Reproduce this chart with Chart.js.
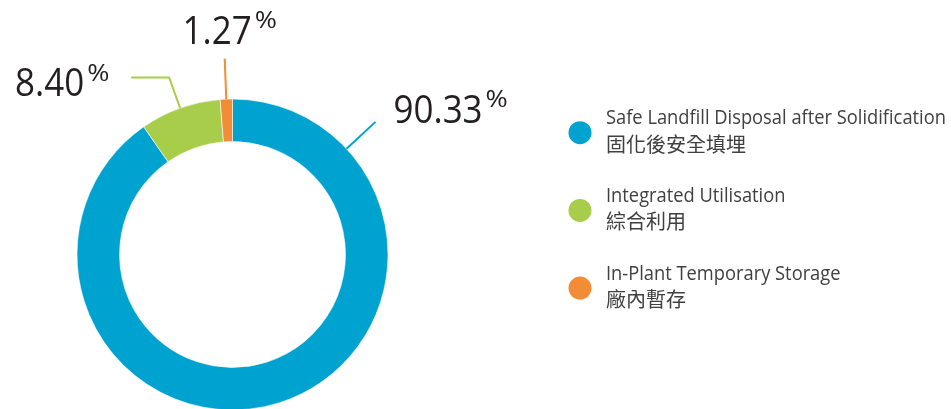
<!DOCTYPE html>
<html><head><meta charset="utf-8">
<script src="https://cdn.jsdelivr.net/npm/chart.js@4"></script>
<style>html,body{margin:0;padding:0;background:#fff;overflow:hidden;width:951px;height:409px}
#wrap{position:relative;width:951px;height:409px}</style></head>
<body><div id="wrap"><canvas id="c" width="951" height="409"></canvas></div>
<script>
// ---- data ----
const categoriesEn = ['Safe Landfill Disposal after Solidification', 'Integrated Utilisation', 'In-Plant Temporary Storage'];
const categoriesZh = ['固化後安全填埋', '綜合利用', '廠內暫存'];
const shares = [90.33, 8.40, 1.27];
const valueLabels = ['90.33', '8.40', '1.27'];
const colors = ['#00a3d0', '#a7cd4b', '#f28c36'];

// ---- label / leader styling (positions relative to the arcs) ----
// align refers to the number (without the % sign)
const leaderStyle = [
  { at: 0.145, r2: 195, hx: 0,   tx: 18,   ty: 1,   align: 'left' },
  { at: 0.5,   r2: 188, hx: -38, tx: -47,  ty: 19,  align: 'right' },
  { at: 0.5,   r2: 196, hx: 0,   tx: -7.5, ty: -15, align: 'center' }
];
const numFont = '38px "Open Sans"';
const pctFont = '24px "Open Sans"';
const condense = 0.92;
const pctStretch = 1.12;
const legendCondense = 0.915;

const labelPlugin = {
  id: 'leaders',
  afterDatasetsDraw(chart) {
    const ctx = chart.ctx;
    const arcs = chart.getDatasetMeta(0).data;
    arcs.forEach((arc, i) => {
      const st = leaderStyle[i];
      const p = arc.getProps(['x', 'y', 'startAngle', 'endAngle', 'outerRadius'], true);
      const a = p.startAngle + (p.endAngle - p.startAngle) * st.at;
      const x1 = p.x + Math.cos(a) * p.outerRadius, y1 = p.y + Math.sin(a) * p.outerRadius;
      const x2 = p.x + Math.cos(a) * st.r2, y2 = p.y + Math.sin(a) * st.r2;
      const x3 = x2 + st.hx, y3 = y2;
      ctx.save();
      ctx.strokeStyle = colors[i];
      ctx.lineWidth = 2;
      ctx.beginPath();
      ctx.moveTo(x1, y1); ctx.lineTo(x2, y2);
      if (st.hx) ctx.lineTo(x3, y3);
      ctx.stroke();
      // text
      ctx.fillStyle = '#231f20';
      ctx.textBaseline = 'alphabetic';
      ctx.textAlign = 'left';
      ctx.font = numFont;
      const mw = ctx.measureText(valueLabels[i]).width * condense;
      const ax = x3 + st.tx;
      let x0;
      if (st.align === 'left') x0 = ax;
      else if (st.align === 'right') x0 = ax - mw;
      else x0 = ax - mw / 2;
      const by = y3 + st.ty;
      ctx.save();
      ctx.translate(x0, by);
      ctx.scale(condense, 1);
      ctx.font = numFont;
      ctx.fillText(valueLabels[i], 0, 0);
      ctx.restore();
      ctx.save();
      ctx.translate(x0 + mw + 3, by - 15.5);
      ctx.scale(pctStretch, 1);
      ctx.font = pctFont;
      ctx.fillText('%', 0, 0);
      ctx.restore();
      ctx.restore();
    });

    // legend
    const lx = 580, ly0 = 132.7, step = 77.7;
    categoriesEn.forEach((en, i) => {
      const cy = ly0 + i * step;
      ctx.save();
      ctx.fillStyle = colors[i];
      ctx.beginPath();
      ctx.arc(lx, cy, 11.5, 0, Math.PI * 2);
      ctx.fill();
      ctx.fillStyle = '#404041';
      ctx.textAlign = 'left';
      ctx.textBaseline = 'alphabetic';
      ctx.translate(606, cy - 8.5);
      ctx.scale(legendCondense, 1);
      ctx.font = '20px "Open Sans"';
      ctx.fillText(en, 0, 0);
      ctx.restore();
      ctx.save();
      ctx.fillStyle = '#404041';
      ctx.font = '20px "Noto Sans CJK TC"';
      ctx.textAlign = 'left';
      ctx.textBaseline = 'alphabetic';
      ctx.fillText(categoriesZh[i], 606, cy + 19);
      ctx.restore();
    });
  }
};

new Chart(document.getElementById('c'), {
  type: 'doughnut',
  data: {
    labels: categoriesEn,
    datasets: [{
      data: shares,
      backgroundColor: colors,
      borderColor: '#ffffff',
      borderWidth: 0.6,
      clip: false
    }]
  },
  options: {
    responsive: false,
    animation: false,
    radius: 155.5,
    cutout: 112,
    rotation: 0,
    layout: { padding: { left: 77, right: 563, top: 100, bottom: 0 } },
    plugins: { legend: { display: false }, tooltip: { enabled: false } },
    events: []
  },
  plugins: [labelPlugin]
});
</script>
</body></html>
